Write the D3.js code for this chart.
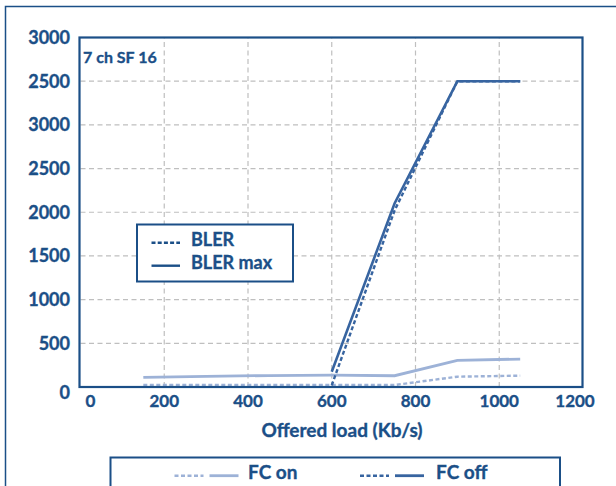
<!DOCTYPE html>
<html>
<head>
<meta charset="utf-8">
<script src="https://cdn.jsdelivr.net/npm/d3@7"></script>
<style>
  body { margin: 0; background: #fff; }
  text { font-family: Lato, "Open Sans", sans-serif; font-weight: bold; fill: #1b4f87; stroke: #1b4f87; stroke-width: 0.35px; }
</style>
</head>
<body>
<script>
// values (y in plot units, 500 per grid step)
const xVals = [150, 300, 450, 600, 750, 900, 1050];
const fcOnBler = [23, 23, 23, 23, 23, 118, 130];
const fcOnBlerMax = [111, 122, 131, 137, 129, 305, 320];
const fcOffX = [600, 750, 900, 1050];
const fcOffBler = [20, 2020, 3500, 3500];
const fcOffBlerMax = [175, 2100, 3500, 3500];

const xTicks = [0, 200, 400, 600, 800, 1000, 1200];
const yTicks = [0, 500, 1000, 1500, 2000, 2500, 3000, 3500, 4000];
const yLabels = ["0", "500", "1000", "1500", "2000", "2500", "3000", "2500", "3000"];

const width = 616, height = 486;
const dark = "#1b4f87", lineDark = "#3764a0", lineLight = "#9db2d7", grid = "#bfbfbf";

const svg = d3.select("body").append("svg")
  .attr("width", width)
  .attr("height", height);

// outer frame
svg.append("rect")
  .attr("x", 5.5).attr("y", 6.5)
  .attr("width", 630).attr("height", 500)
  .attr("fill", "none").attr("stroke", dark).attr("stroke-width", 1.5);

const x = d3.scaleLinear().domain([0, 1200]).range([80.5, 583]);
const y = d3.scaleLinear().domain([0, 4000]).range([387, 37.5]);

// grid
svg.append("g")
  .selectAll("line")
  .data(yTicks.slice(1, -1))
  .join("line")
  .attr("x1", x(0)).attr("x2", x(1200))
  .attr("y1", d => y(d)).attr("y2", d => y(d))
  .attr("stroke", grid).attr("stroke-width", 1.2).attr("stroke-dasharray", "5,3.5");

svg.append("g")
  .selectAll("line")
  .data(xTicks.slice(1, -1))
  .join("line")
  .attr("x1", d => x(d)).attr("x2", d => x(d))
  .attr("y1", y(0)).attr("y2", y(4000))
  .attr("stroke", grid).attr("stroke-width", 1.2).attr("stroke-dasharray", "5,3.5");

// series
const line = d3.line().x(d => x(d[0])).y(d => y(d[1]));
const series = [
  { xs: xVals, ys: fcOnBler, color: lineLight, dash: "4,2.5", w: 2.4 },
  { xs: xVals, ys: fcOnBlerMax, color: lineLight, dash: null, w: 2.8 },
  { xs: fcOffX, ys: fcOffBler, color: lineDark, dash: "4,2.5", w: 2.4 },
  { xs: fcOffX, ys: fcOffBlerMax, color: lineDark, dash: null, w: 2.6 }
];

svg.append("g")
  .selectAll("path")
  .data(series)
  .join("path")
  .attr("d", s => line(s.xs.map((v, i) => [v, s.ys[i]])))
  .attr("fill", "none")
  .attr("stroke", s => s.color)
  .attr("stroke-width", s => s.w)
  .attr("stroke-dasharray", s => s.dash);

// plot border
svg.append("rect")
  .attr("x", 79.5).attr("y", 37.5)
  .attr("width", 503).attr("height", 349.5)
  .attr("fill", "none").attr("stroke", dark).attr("stroke-width", 2.2);

// y tick labels
svg.append("g")
  .selectAll("text")
  .data(yTicks)
  .join("text")
  .attr("x", 70)
  .attr("y", (d, i) => y(d) + (i === 0 ? 6 : 0))
  .attr("dy", "0.36em")
  .attr("text-anchor", "end")
  .attr("font-size", 18)
  .text((d, i) => yLabels[i]);

// x tick labels
svg.append("g")
  .selectAll("text")
  .data(xTicks)
  .join("text")
  .attr("x", (d, i) => x(d) + (i === 0 ? 10 : i === xTicks.length - 1 ? -8 : 0))
  .attr("y", 406.5)
  .attr("text-anchor", "middle")
  .attr("font-size", 17)
  .text(d => d);

svg.append("text")
  .attr("x", 342).attr("y", 436.5)
  .attr("text-anchor", "middle")
  .attr("font-size", 19)
  .text("Offered load (Kb/s)");

svg.append("text")
  .attr("x", 83).attr("y", 63)
  .attr("font-size", 16)
  .text("7 ch SF 16");

// inner legend
const lg = svg.append("g");
lg.append("rect")
  .attr("x", 137).attr("y", 224.5)
  .attr("width", 156).attr("height", 57)
  .attr("fill", "#fff").attr("stroke", dark).attr("stroke-width", 2);
const lgItems = [
  { label: "BLER", dash: "4,2.2", y: 242.7, base: 246 },
  { label: "BLER max", dash: null, y: 265.7, base: 268.5 }
];
lg.selectAll("line")
  .data(lgItems)
  .join("line")
  .attr("x1", 151.5).attr("x2", 180)
  .attr("y1", d => d.y).attr("y2", d => d.y)
  .attr("stroke", dark).attr("stroke-width", 2.4)
  .attr("stroke-dasharray", d => d.dash);
lg.selectAll("text")
  .data(lgItems)
  .join("text")
  .attr("x", 191).attr("y", d => d.base)
  .attr("font-size", 18)
  .text(d => d.label);

// bottom legend
const bl = svg.append("g");
bl.append("rect")
  .attr("x", 110.5).attr("y", 457.5)
  .attr("width", 449.5).attr("height", 60)
  .attr("fill", "#fff").attr("stroke", dark).attr("stroke-width", 2);
const blItems = [
  { label: "FC on", color: lineLight, x0: 174.5, tx: 248 },
  { label: "FC off", color: lineDark, x0: 360, tx: 436 }
];
blItems.forEach(d => {
  bl.append("line")
    .attr("x1", d.x0).attr("x2", d.x0 + 29)
    .attr("y1", 475.7).attr("y2", 475.7)
    .attr("stroke", d.color).attr("stroke-width", 2.6)
    .attr("stroke-dasharray", "4,2.5");
  bl.append("line")
    .attr("x1", d.x0 + 35).attr("x2", d.x0 + 64)
    .attr("y1", 475.7).attr("y2", 475.7)
    .attr("stroke", d.color).attr("stroke-width", 2.8);
  bl.append("text")
    .attr("x", d.tx).attr("y", 478.5)
    .attr("font-size", 19)
    .text(d.label);
});
</script>
</body>
</html>
